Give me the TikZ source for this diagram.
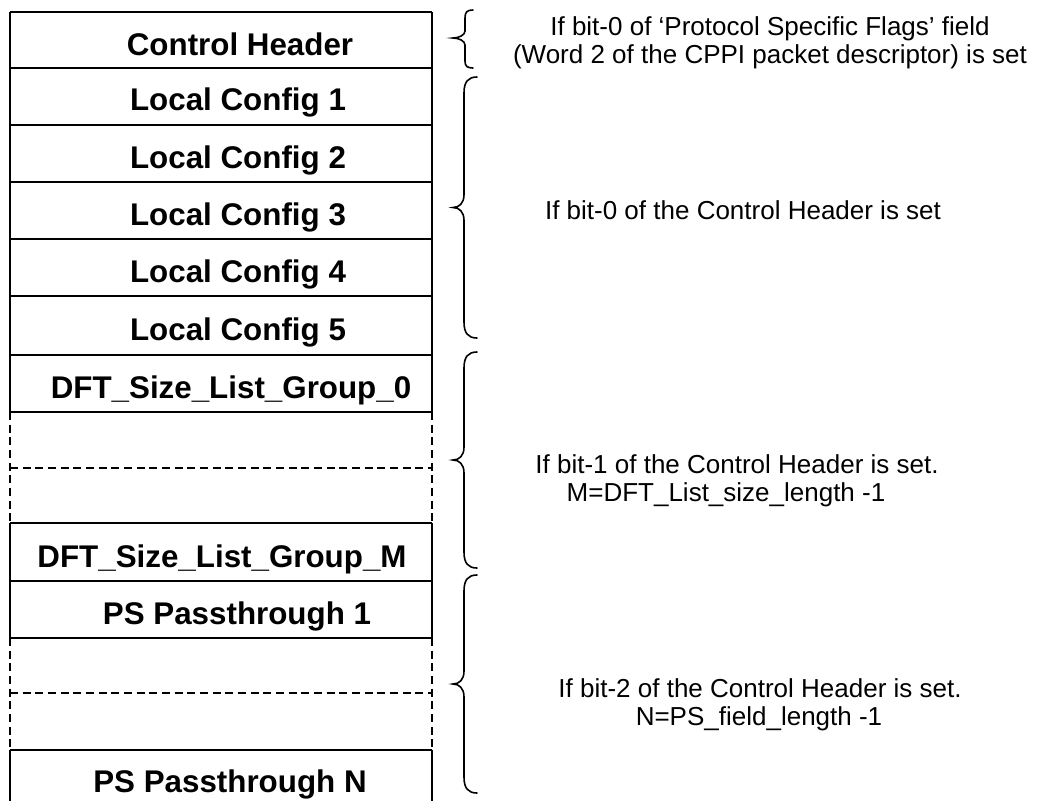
\documentclass[tikz,border=0pt]{standalone}
\usepackage{fontspec}
\setmainfont{Liberation Sans}
\begin{document}
\begin{tikzpicture}[x=0.75pt,y=-0.75pt,
  rowline/.style={line width=1.3pt},
  dashline/.style={line width=1.6pt, dash pattern=on 6pt off 3.5pt},
  fieldtxt/.style={font=\fontsize{23.5}{28}\selectfont\bfseries, anchor=base, inner sep=0pt},
  notetxt/.style={font=\fontsize{19.5}{21}\selectfont, anchor=base, inner sep=0pt},
  bracepath/.style={line width=1.2pt, line cap=round}]
\useasboundingbox (0,0) rectangle (1038,801);
% solid horizontal lines
\foreach \yy in {12,68,125,182,239,296,355,412,523,581,638,750}
  \draw[rowline] (10,\yy) -- (432,\yy);
% dashed horizontal lines
\foreach \yy in {468,693}
  \draw[dashline] (10,\yy) -- (432,\yy);
% solid and dashed verticals
\foreach \xx in {10,432} {
  \draw[rowline] (\xx,12) -- (\xx,412);
  \draw[rowline] (\xx,523) -- (\xx,638);
  \draw[rowline] (\xx,750) -- (\xx,801);
  \draw[dashline] (\xx,412) -- (\xx,523);
  \draw[dashline] (\xx,638) -- (\xx,750);
}
% field labels
\node[fieldtxt] (ch)  at (240,55)  {Control Header};
\node[fieldtxt] (lc1) at (238,110) {Local Config 1};
\node[fieldtxt] (lc2) at (238,168) {Local Config 2};
\node[fieldtxt] (lc3) at (238,225) {Local Config 3};
\node[fieldtxt] (lc4) at (238,282) {Local Config 4};
\node[fieldtxt] (lc5) at (238,340) {Local Config 5};
\node[fieldtxt] (d0)  at (231,398) {DFT\_Size\_List\_Group\_0};
\node[fieldtxt] (dm)  at (222,567) {DFT\_Size\_List\_Group\_M};
\node[fieldtxt] (p1)  at (237,624) {PS Passthrough 1};
\node[fieldtxt] (pn)  at (230,792) {PS Passthrough N};
% braces
\draw[bracepath] (473,10) .. controls (467,10) and (465,12) .. (465,18) -- (465,31)
  .. controls (465,35) and (459,38) .. (453,38) .. controls (459,38) and (465,41) .. (465,45)
  -- (465,61) .. controls (465,66) and (467,68) .. (473,68);
\foreach \ta/\tb in {77/338, 352/568, 575/793} {
  \pgfmathsetmacro{\tm}{(\ta+\tb)/2}
  \draw[bracepath] (477,\ta) .. controls (468,\ta) and (464,\ta+5) .. (464,\ta+16)
    -- (464,\tm-13) .. controls (464,\tm-4) and (459,\tm) .. (453,\tm)
    .. controls (459,\tm) and (464,\tm+4) .. (464,\tm+13)
    -- (464,\tb-16) .. controls (464,\tb-5) and (468,\tb) .. (477,\tb);
}
% notes
\node[notetxt] (n1a) at (770,35)  {If bit-0 of ‘Protocol Specific Flags’ field};
\node[notetxt] (n1b) at (770,63)  {(Word 2 of the CPPI packet descriptor) is set};
\node[notetxt] (n2)  at (743,219) {If bit-0 of the Control Header is set};
\node[notetxt] (n3a) at (737,473) {If bit-1 of the Control Header is set.};
\node[notetxt] (n3b) at (726,501) {M=DFT\_List\_size\_length -1};
\node[notetxt] (n4a) at (760,697) {If bit-2 of the Control Header is set.};
\node[notetxt] (n4b) at (759,725) {N=PS\_field\_length -1};
\end{tikzpicture}
\end{document}
